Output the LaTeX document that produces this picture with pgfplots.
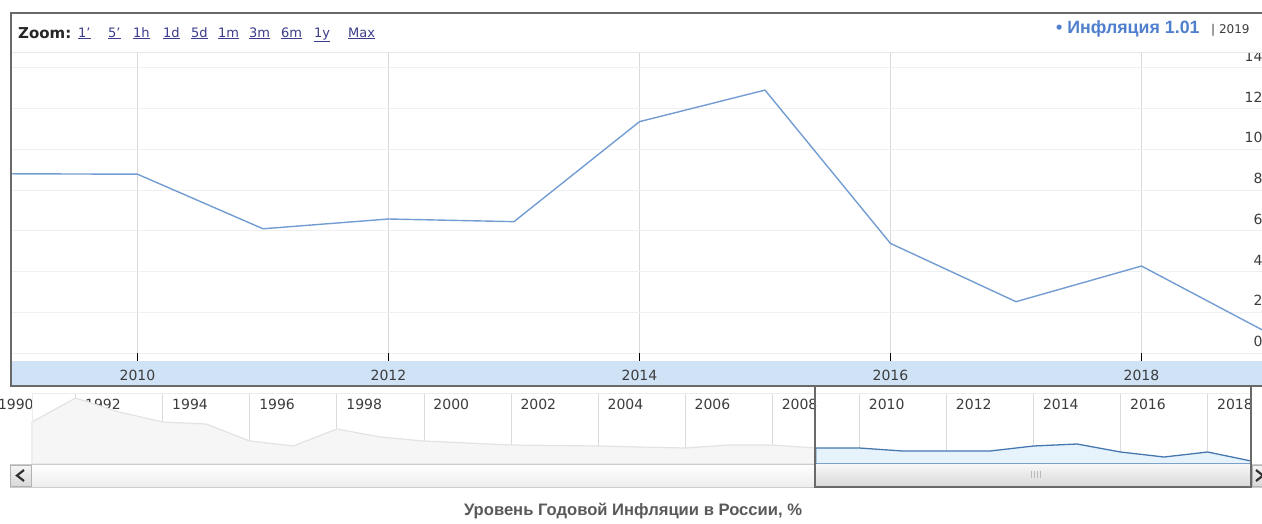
\documentclass[border=0pt]{standalone}
\usepackage{fontspec}
\setmainfont{DejaVu Sans}
\newfontfamily\arial{Liberation Sans}
\usepackage{pgfplots}
\usepackage{pgfplotstable}
\pgfplotsset{compat=1.18}

\definecolor{mainline}{RGB}{115,157,210}
\definecolor{band}{RGB}{208,226,246}
\definecolor{navblue}{RGB}{70,120,175}
\definecolor{navfill}{RGB}{230,243,252}
\definecolor{legblue}{RGB}{80,128,205}
\definecolor{linkcol}{RGB}{60,60,140}
\definecolor{framecol}{RGB}{105,105,105}
\definecolor{lbl}{RGB}{60,60,60}

% annual inflation, %
\pgfplotstableread{
year infl
2009 8.80
2010 8.78
2011 6.10
2012 6.58
2013 6.45
2014 11.36
2015 12.91
2016 5.38
2017 2.52
2018 4.27
2019 1.01
}\maindata

% navigator series (navigator scale)
\pgfplotstableread{
year v
1991 33.6
1992 52.8
1993 41.6
1994 33.6
1995 32.0
1996 18.4
1997 14.4
1998 28.0
1999 21.6
2000 18.4
2001 16.8
2002 15.2
2003 14.8
2004 14.4
2005 13.6
2006 12.8
2007 15.2
2008 15.2
2009 12.8
}\navold

\pgfplotstableread{
year v
2009 12.8
2010 12.8
2011 10.4
2012 10.4
2013 10.4
2014 14.4
2015 16.0
2016 9.6
2017 5.6
2018 9.6
2019 2.4
}\navnew

\newcommand{\tickfont}{\fontsize{14}{16}\selectfont}

\begin{document}
\begin{tikzpicture}
\path[use as bounding box] (0pt,0pt) rectangle (1262pt,-523pt);
\clip (0pt,0pt) rectangle (1262pt,-523pt);

\begin{scope}[x=1pt,y=-1pt]
\fill[band] (12,361) rectangle (1262,385);
\end{scope}

% main chart
\begin{axis}[
    at={(12pt,-353pt)}, anchor=south west,
    scale only axis, width=1250pt, height=301pt,
    xmin=2009, xmax=2018.96, ymin=0, ymax=14.78,
    axis line style={draw=none},
    xtick={2010,2012,...,2018},
    ytick={0,2,...,14},
    xmajorgrids, ymajorgrids,
    x grid style={gray!30, line width=0.8pt},
    y grid style={gray!12, line width=0.8pt},
    xtick pos=bottom, xtick align=outside,
    xtick style={black, line width=1pt},
    major tick length=8pt,
    ytick style={draw=none},
    yticklabel pos=right,
    /pgf/number format/1000 sep={},
    /pgf/number format/assume math mode=true,
    xticklabel style={font=\tickfont, text=lbl, anchor=center, yshift=-14pt},
    yticklabel style={font=\tickfont, text=lbl, anchor=south east, xshift=4pt, yshift=3pt},
]
\addplot[mainline, line width=1.4pt, mark=none] table[x=year, y=infl] {\maindata};
\end{axis}

% navigator
\begin{axis}[
    at={(-11.5pt,-464pt)}, anchor=south west,
    scale only axis, width=1262.7pt, height=71pt,
    xmin=1990, xmax=2019, ymin=0, ymax=56.8,
    axis line style={draw=none},
    xtick={1990,1992,...,2018},
    ytick=\empty,
    xmajorgrids,
    x grid style={gray!28, line width=0.8pt},
    xtick pos=bottom, xticklabel pos=top, xtick align=inside,
    xtick style={black, line width=1.2pt},
    major tick length=7pt,
    /pgf/number format/1000 sep={},
    /pgf/number format/assume math mode=true,
    xticklabel style={font=\tickfont, text=lbl, anchor=north west, xshift=6pt, yshift=-3pt},
]
\addplot[draw=gray!22, fill=gray!7, line width=1.2pt] table[x=year, y=v] {\navold} \closedcycle;
\addplot[draw=navblue, fill=navfill, line width=1.3pt] table[x=year, y=v] {\navnew} \closedcycle;
\end{axis}

\begin{scope}[x=1pt,y=-1pt]
% header area
\fill[white] (12,14) rectangle (1262,52);
\draw[gray!18, line width=1pt] (12,52) -- (1262,52);
% frame
\draw[framecol, line width=2pt] (1262,13) -- (11,13) -- (11,386) -- (1262,386);
% navigator outline
\draw[gray!15, line width=0.8pt] (32,464) -- (32,393) -- (1251,393);
% scrollbar track
\shade[top color=white, bottom color=gray!14] (10,464) rectangle (1262,487);
\draw[gray!40, line width=0.8pt] (10,464) rectangle (1262,487);
% thumb
\shade[top color=gray!6, bottom color=gray!30] (815,464) rectangle (1251,487);
\foreach \gx in {1031,1034,1037,1040} \draw[gray!55, line width=0.8pt] (\gx,471) -- (\gx,478);
% buttons
\shade[top color=gray!8, bottom color=gray!30] (10,465) rectangle (31,486);
\draw[gray!60, line width=0.8pt] (10,465) rectangle (31,486);
\draw[black!80, line width=2.2pt] (24,470) -- (17,475.5) -- (24,481);
\shade[top color=gray!8, bottom color=gray!30] (1252,465) rectangle (1263,486);
\draw[gray!60, line width=0.8pt] (1252,465) rectangle (1263,486);
\draw[black!80, line width=2.2pt] (1256,470) -- (1263,475.5) -- (1256,481);
% selected range outline
\draw[framecol, line width=1.6pt] (815,386) -- (815,487) -- (1251,487) -- (1251,386);

% header texts
\node[anchor=base west, inner sep=0pt, text=black!85] at (18,38) {\fontsize{15}{17}\selectfont\bfseries Zoom:};
\foreach \lx/\lt in {78/1',108/5',133/1h,163/1d,191/5d,218/1m,249/3m,281/6m,314/1y,348/Max}
  \node[anchor=base west, inner sep=0pt, text=linkcol] at (\lx,37) {\fontsize{13}{15}\selectfont\underline{\lt}};
\node[anchor=base west, inner sep=0pt, text=legblue] at (1056,33) {\arial\bfseries\fontsize{17.8}{20}\selectfont • Инфляция 1.01};
\node[anchor=base west, inner sep=0pt, text=lbl] at (1211,33) {\fontsize{12}{14}\selectfont | 2019};

% title
\node[anchor=base, inner sep=0pt, text=black!65] at (633,515) {\arial\bfseries\fontsize{16.6}{19}\selectfont Уровень Годовой Инфляции в России, \%};
\end{scope}
\end{tikzpicture}
\end{document}
